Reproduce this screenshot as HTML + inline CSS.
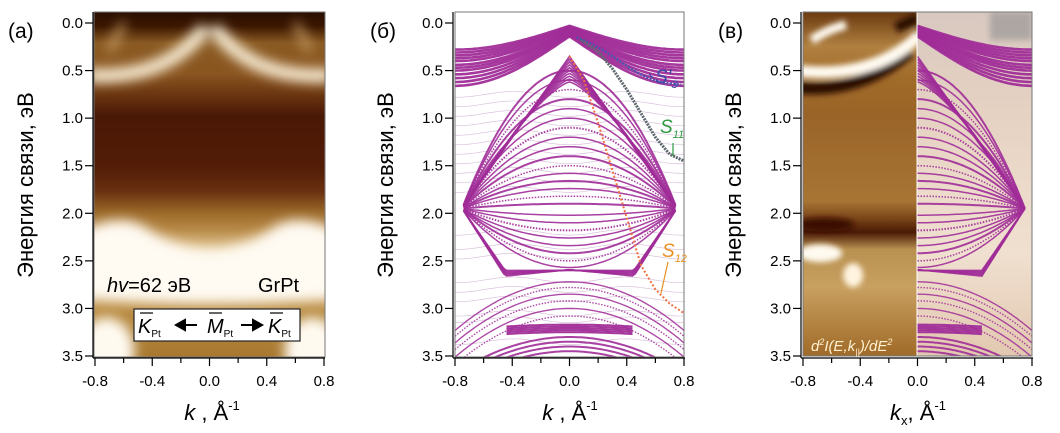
<!DOCTYPE html>
<html><head><meta charset="utf-8">
<style>
html,body{margin:0;padding:0;background:#fff;}
svg{display:block;font-family:"Liberation Sans",sans-serif;}
</style></head>
<body>
<svg id="fig" width="1060" height="433" viewBox="0 0 1060 433" xmlns="http://www.w3.org/2000/svg">
<defs>
<filter id="blur6" x="-30%" y="-30%" width="160%" height="160%"><feGaussianBlur stdDeviation="6"/></filter>
<filter id="blur3" x="-30%" y="-30%" width="160%" height="160%"><feGaussianBlur stdDeviation="3"/></filter>
<linearGradient id="gA" x1="0" y1="0" x2="0" y2="1">
<stop offset="0" stop-color="#2a0e00"/><stop offset="0.04" stop-color="#3a1600"/>
<stop offset="0.09" stop-color="#8a5a22"/><stop offset="0.18" stop-color="#8a5520"/>
<stop offset="0.24" stop-color="#6a3510"/><stop offset="0.3" stop-color="#4a1806"/>
<stop offset="0.45" stop-color="#521c07"/><stop offset="0.52" stop-color="#6a3010"/>
<stop offset="0.58" stop-color="#9a6828"/><stop offset="0.63" stop-color="#b88a48"/>
<stop offset="0.7" stop-color="#e8d0a0"/><stop offset="0.8" stop-color="#d0a868"/>
<stop offset="0.87" stop-color="#b88a40"/><stop offset="1" stop-color="#a87830"/>
</linearGradient>
<linearGradient id="gC" x1="0" y1="0" x2="0" y2="1">
<stop offset="0" stop-color="#6a3a10"/><stop offset="0.1" stop-color="#b08040"/>
<stop offset="0.2" stop-color="#a06a28"/><stop offset="0.3" stop-color="#9a6428"/>
<stop offset="0.55" stop-color="#a87535"/><stop offset="0.6" stop-color="#7a4518"/>
<stop offset="0.64" stop-color="#4a1a05"/><stop offset="0.69" stop-color="#b89050"/>
<stop offset="0.8" stop-color="#c8a060"/><stop offset="1" stop-color="#a06a28"/>
</linearGradient>
<linearGradient id="gCR" x1="0" y1="0" x2="0" y2="1">
<stop offset="0" stop-color="#d8c8c0"/><stop offset="0.3" stop-color="#e6d2c2"/>
<stop offset="0.7" stop-color="#f0e0d0"/><stop offset="1" stop-color="#e2c8b0"/>
</linearGradient>
<clipPath id="clipA"><rect x="94" y="12" width="231" height="345"/></clipPath>
<clipPath id="clipB"><rect x="455" y="12" width="229" height="345"/></clipPath>
<clipPath id="clipCL"><rect x="803" y="12" width="114" height="344"/></clipPath>
<clipPath id="clipCR"><rect x="917" y="12" width="115" height="344"/></clipPath>
</defs>
<g id="panels"></g>
</svg>
<script>
// ---- data ----
const xTicks = [-0.8, -0.4, 0.0, 0.4, 0.8];
const xTickLabels = ["-0.8", "-0.4", "0.0", "0.4", "0.8"];
const yTicks = [0.0, 0.5, 1.0, 1.5, 2.0, 2.5, 3.0, 3.5];
const yTickLabels = ["0.0", "0.5", "1.0", "1.5", "2.0", "2.5", "3.0", "3.5"];
const upperBandE0 = [0.03, 0.04, 0.05, 0.06, 0.07, 0.08, 0.09, 0.10, 0.11, 0.12, 0.13, 0.14];
const upperBandEdge = [0.28, 0.31, 0.34, 0.37, 0.40, 0.44, 0.47, 0.50, 0.54, 0.58, 0.62, 0.66];
const fanBandApex = [0.5, 0.6, 0.7, 0.8, 0.9, 1.0, 1.1, 1.2, 1.3, 1.4, 1.5, 1.58, 1.66, 1.74, 1.82, 1.9, 2.02, 2.1, 2.18, 2.26, 2.34, 2.42, 2.5, 2.57];
const nodeK = 0.75, nodeE = 1.95;
const lowerArchTop = [2.72, 2.78, 2.85, 2.92, 3.0, 3.08];
const deepBandE = [3.17, 3.19, 3.21, 3.23, 3.25];
const deepArcTop = [3.3, 3.35, 3.4, 3.45];
const bgLineE = [0.75, 0.85, 0.95, 1.05, 1.15, 1.25, 1.35, 1.45, 1.55, 1.65, 1.75, 2.2, 2.35, 2.45, 2.7, 2.8, 2.9, 3.05, 3.12, 3.35];
const s3k = [0.05, 0.15, 0.25, 0.35, 0.45, 0.55, 0.65, 0.78];
const s3E = [0.15, 0.22, 0.30, 0.40, 0.50, 0.58, 0.63, 0.65];
const s11k = [0.08, 0.2, 0.3, 0.4, 0.5, 0.6, 0.7, 0.8];
const s11E = [0.18, 0.3, 0.48, 0.7, 0.95, 1.2, 1.38, 1.45];
const s12k = [0.0, 0.1, 0.2, 0.3, 0.4, 0.5, 0.6, 0.7, 0.8];
const s12E = [0.35, 0.6, 1.05, 1.55, 2.05, 2.55, 2.8, 2.95, 3.05];

const NS = "http://www.w3.org/2000/svg";
const root = document.getElementById('panels');
const Y0 = 23, YS = (356 - 23) / 3.5;
function sy(E){ return Y0 + E * YS; }
function mkX(x0, x1){ return k => x0 + (k + 0.8) / 1.6 * (x1 - x0); }
function el(tag, attrs, parent){
  const e = document.createElementNS(NS, tag);
  for (const a in attrs) e.setAttribute(a, attrs[a]);
  (parent || root).appendChild(e);
  return e;
}
const PURPLE = "#a02c98";

function drawBands(g, sx, kmin, kmax, withBg){
  function curve(f, w, color, op, dash){
    let d = "";
    for (let i = 0; i <= 80; i++){
      const k = kmin + (kmax - kmin) * i / 80;
      const E = f(k);
      if (E === null) { continue; }
      d += (d ? "L" : "M") + sx(k).toFixed(1) + "," + sy(E).toFixed(1);
    }
    const p = el('path', {d: d, fill: 'none', stroke: color, 'stroke-width': w, opacity: op}, g);
    if (dash) p.setAttribute('stroke-dasharray', dash);
    
    
  }
  if (withBg){
    bgLineE.forEach(E => curve(k => E + 0.03 * Math.cos(k * 8), 0.6, "#c8a8cc", 0.8));
  }
  upperBandE0.forEach((e0, i) => {
    const eEdge = upperBandEdge[i];
    curve(k => e0 + (eEdge - e0) * Math.sin(Math.min(Math.abs(k) / 0.8, 1) * Math.PI / 2), 2.6, PURPLE, 0.95);
  });
  fanBandApex.forEach((a, i) => {
    curve(k => Math.abs(k) <= nodeK ? a + (nodeE - a) * Math.pow(Math.abs(k) / nodeK, 2) : null,
      i % 3 === 0 ? 2 : 1.5, PURPLE, 0.9, i % 4 === 2 ? "1.5,1.5" : null);
  });
  for (let j = 0; j < 10; j++){
    const a = 0.35 + j * 0.03;
    curve(k => Math.abs(k) <= nodeK ? a + (nodeE - a) * Math.pow(Math.abs(k) / nodeK, 1 + j * 0.04) : null, 1.6, PURPLE, 0.9);
  }
  for (let j = 0; j < 6; j++){
    const b = 2.6 + j * 0.012;
    curve(k => {
      const ak = Math.abs(k);
      if (ak > nodeK) return null;
      if (ak < 0.45) return b - 0.15 * (0.45 - ak) * j / 5;
      return b + (nodeE - b) * (ak - 0.45) / (nodeK - 0.45);
    }, 1.6, PURPLE, 0.9);
  }
  lowerArchTop.forEach((c, i) => {
    curve(k => c + 0.8 * k * k, 1.4, PURPLE, 0.85, i % 2 ? "1.5,1.5" : null);
  });
  deepBandE.forEach(E => curve(k => Math.abs(k) <= 0.45 ? E + 0.1 * k * k : null, 2, PURPLE, 0.95));
  deepArcTop.forEach(c => curve(k => Math.abs(k) <= 0.75 ? c + 0.6 * k * k : null, 2, PURPLE, 0.9));
}

function axes(sx, x0, x1, prefix){
  const g = el('g', {});
  
  
  el('line', {x1: x0 - 2, y1: 12, x2: x0 - 2, y2: 358, stroke: '#000', 'stroke-width': 1.2}, g);
  el('line', {x1: x0 - 2, y1: 358, x2: x1 + 1, y2: 358, stroke: '#000', 'stroke-width': 1.2}, g);
  yTicks.forEach((E, i) => {
    el('line', {x1: x0 - 10, y1: sy(E), x2: x0 - 2, y2: sy(E), stroke: '#000', 'stroke-width': 1.2}, g);
    const t = el('text', {x: x0 - 12, y: sy(E) + 5, 'text-anchor': 'end', 'font-size': 15}, g);
    t.textContent = yTickLabels[i];
    
    
  });
  for (let k = -0.8; k <= 0.801; k += 0.2){
    const major = Math.abs(Math.round(k * 10) % 4) === 0;
    el('line', {x1: sx(k), y1: 358, x2: sx(k), y2: major ? 366 : 363, stroke: '#000', 'stroke-width': 1.2}, g);
  }
  xTicks.forEach((k, i) => {
    const t = el('text', {x: sx(k), y: 386, 'text-anchor': 'middle', 'font-size': 15}, g);
    t.textContent = xTickLabels[i];
    
    
  });
  const yt = el('text', {x: 0, y: 0, transform: 'translate(' + (x0 - 62) + ',185) rotate(-90)', 'text-anchor': 'middle', 'font-size': 22}, g);
  yt.textContent = 'Энергия связи, эВ';
  
  
  return g;
}

// ===== Panel A =====
(function(){
  const sx = mkX(95, 324);
  const g = el('g', {'clip-path': 'url(#clipA)'});
  
  
  el('rect', {x: 94, y: 12, width: 231, height: 345, fill: 'url(#gA)'}, g);
  const w = el('g', {filter: 'url(#blur6)'}, g);
  el('path', {d: `M${sx(-0.85)},${sy(0.55)} Q${sx(-0.3)},${sy(0.6)} ${sx(-0.03)},${sy(0.05)}`, stroke: '#fff6e0', 'stroke-width': 13, fill: 'none'}, w);
  el('path', {d: `M${sx(0.85)},${sy(0.55)} Q${sx(0.3)},${sy(0.6)} ${sx(0.03)},${sy(0.05)}`, stroke: '#fff6e0', 'stroke-width': 13, fill: 'none'}, w);
  el('path', {d: `M${sx(-0.6)},${sy(0.0)} L${sx(-0.7)},${sy(0.3)} M${sx(0.6)},${sy(0)} L${sx(0.7)},${sy(0.3)}`, stroke: '#d0a870', 'stroke-width': 6, fill: 'none'}, w);
  el('path', {d: `M${sx(-0.9)},${sy(2.2)} Q${sx(-0.6)},${sy(1.95)} ${sx(-0.4)},${sy(2.2)} Q${sx(0)},${sy(2.55)} ${sx(0.4)},${sy(2.2)} Q${sx(0.6)},${sy(1.95)} ${sx(0.9)},${sy(2.2)} L${sx(0.9)},${sy(2.9)} Q${sx(0)},${sy(3.0)} ${sx(-0.9)},${sy(2.9)} Z`, fill: '#fffaf2'}, w);
  el('ellipse', {cx: sx(-0.72), cy: sy(3.45), rx: 28, ry: 34, fill: '#fffaf0'}, w);
  el('ellipse', {cx: sx(0.72), cy: sy(3.45), rx: 28, ry: 34, fill: '#fffaf0'}, w);
  el('rect', {x: 94, y: 12, width: 231, height: 345, fill: 'none', stroke: '#777', 'stroke-width': 1}, root);
  axes(sx, 95, 324, 'panel-a');
  const t1 = el('text', {x: 107, y: 292, 'font-size': 20});
  t1.innerHTML = '<tspan font-style="italic">hv</tspan>=62 эВ';
   
  const t2 = el('text', {x: 258, y: 292, 'font-size': 20}); t2.textContent = 'GrPt';
   
  const box = el('g', {});
   
  el('rect', {x: 134, y: 309, width: 166, height: 32, fill: '#fff', stroke: '#222', 'stroke-width': 1.2}, box);
  const lab = (x, ch) => {
    const t = el('text', {x: x, y: 333, 'font-size': 20, 'font-style': 'italic'}, box);
    t.innerHTML = ch + '<tspan font-size="10" font-style="normal" dy="4">Pt</tspan>';
    el('line', {x1: x + 2, y1: 313, x2: x + 15, y2: 313, stroke: '#000', 'stroke-width': 1.2}, box);
  };
  lab(138, 'K'); lab(207, 'M'); lab(268, 'K');
  el('path', {d: 'M197,325 H176 M176,325 l9,-5 v10 z', stroke: '#000', 'stroke-width': 2, fill: '#000'}, box);
  el('path', {d: 'M241,325 H262 M262,325 l-9,-5 v10 z', stroke: '#000', 'stroke-width': 2, fill: '#000'}, box);
  const pl = el('text', {x: 8, y: 38, 'font-size': 21}); pl.textContent = '(a)';
   
  const xt = el('text', {x: 212, y: 420, 'text-anchor': 'middle', 'font-size': 22});
  xt.innerHTML = '<tspan font-style="italic">k</tspan> , Å<tspan font-size="13" dy="-10">-1</tspan>';
   
})();

// ===== Panel B =====
(function(){
  const sx = mkX(455, 684);
  const g = el('g', {'clip-path': 'url(#clipB)'});
  
  
  el('rect', {x: 455, y: 12, width: 229, height: 345, fill: '#fff'}, g);
  drawBands(g, sx, -0.8, 0.8, true);
  function trace(ks, Es, color, w, dash, name){
    const d = ks.map((k, i) => (i ? 'L' : 'M') + sx(k).toFixed(1) + ',' + sy(Es[i]).toFixed(1)).join('');
    const p = el('path', {d: d, fill: 'none', stroke: color, 'stroke-width': w, 'stroke-dasharray': dash, 'stroke-linejoin': 'round'}, g);
     
  }
  trace(s3k, s3E, '#4a55b0', 2.5, '2,1.5', 's3-trace');
  trace(s11k, s11E, '#606870', 3, '2,1', 's11-trace');
  trace(s12k, s12E, '#f07040', 2, '2,2', 's12-trace');
  el('rect', {x: 455, y: 12, width: 229, height: 345, fill: 'none', stroke: '#777', 'stroke-width': 1}, root);
  axes(sx, 455, 684, 'panel-b');
  const lbl = (x, y, main, sub, col, name) => {
    const t = el('text', {x: x, y: y, 'font-size': 19, 'font-style': 'italic', fill: col});
    t.innerHTML = main + '<tspan font-size="11" dy="5">' + sub + '</tspan>';
     
  };
  lbl(655, 83, "S'", '3', '#3a4aa8', 's3-label');
  lbl(660, 133, 'S', '11', '#2a9a40', 's11-label');
  lbl(662, 257, 'S', '12', '#e89020', 's12-label');
  el('path', {d: 'M653,78 L649,74', stroke: '#3a4aa8', 'stroke-width': 1.2}, root);
  el('path', {d: 'M673,143 L673,156', stroke: '#2a9a40', 'stroke-width': 1.2}, root);
  el('path', {d: 'M668,262 L661,293', stroke: '#e89020', 'stroke-width': 1.2}, root);
  const pl = el('text', {x: 370, y: 38, 'font-size': 21}); pl.textContent = '(б)';
   
  const xt = el('text', {x: 570, y: 420, 'text-anchor': 'middle', 'font-size': 22});
  xt.innerHTML = '<tspan font-style="italic">k</tspan> , Å<tspan font-size="13" dy="-10">-1</tspan>';
   
})();

// ===== Panel C =====
(function(){
  const sx = mkX(803, 1032);
  const gl = el('g', {'clip-path': 'url(#clipCL)'});
  
  
  el('rect', {x: 803, y: 12, width: 114, height: 344, fill: 'url(#gC)'}, gl);
  const w = el('g', {filter: 'url(#blur3)'}, gl);
  el('path', {d: `M${sx(-0.85)},${sy(0.68)} Q${sx(-0.4)},${sy(0.75)} ${sx(-0.05)},${sy(0.3)}`, stroke: '#2a0a00', 'stroke-width': 12, fill: 'none'}, w);
  el('path', {d: `M${sx(0.0)},${sy(-0.05)} L${sx(-0.15)},${sy(0.05)}`, stroke: '#2a0a00', 'stroke-width': 10, fill: 'none'}, w);
  el('path', {d: `M${sx(-0.85)},${sy(0.5)} Q${sx(-0.3)},${sy(0.6)} ${sx(0.02)},${sy(0.12)}`, stroke: '#fffaf0', 'stroke-width': 12, fill: 'none'}, w);
  el('path', {d: `M${sx(-0.74)},${sy(0.18)} Q${sx(-0.62)},${sy(0.06)} ${sx(-0.5)},${sy(0.02)}`, stroke: '#fffaf0', 'stroke-width': 9, fill: 'none'}, w);
  el('ellipse', {cx: sx(-0.68), cy: sy(2.42), rx: 22, ry: 9, fill: '#fffaf0'}, w);
  el('ellipse', {cx: sx(-0.45), cy: sy(2.65), rx: 10, ry: 12, fill: '#fff4e0'}, w);
  el('ellipse', {cx: sx(-0.65), cy: sy(2.12), rx: 30, ry: 7, fill: '#3a1000'}, w);
  const gr = el('g', {'clip-path': 'url(#clipCR)'});
  
  
  el('rect', {x: 917, y: 12, width: 115, height: 344, fill: 'url(#gCR)'}, gr);
  el('rect', {x: 990, y: 12, width: 42, height: 28, fill: '#909090', opacity: 0.6, filter: 'url(#blur3)'}, gr);
  drawBands(gr, sx, 0, 0.8, false);
  el('line', {x1: 917, y1: 12, x2: 917, y2: 356, stroke: '#fff', 'stroke-width': 1}, root);
  el('rect', {x: 803, y: 12, width: 229, height: 344, fill: 'none', stroke: '#777', 'stroke-width': 1}, root);
  axes(sx, 803, 1032, 'panel-c');
  const t = el('text', {x: 811, y: 351, 'font-size': 15, 'font-style': 'italic', fill: '#fff0d0'});
  t.innerHTML = 'd<tspan font-size="9" dy="-6">2</tspan><tspan dy="6">I(E,k</tspan><tspan font-size="9" dy="4">||</tspan><tspan dy="-4">)/dE</tspan><tspan font-size="9" dy="-6">2</tspan>';
   
  const pl = el('text', {x: 718, y: 38, 'font-size': 21}); pl.textContent = '(в)';
   
  const xt = el('text', {x: 918, y: 420, 'text-anchor': 'middle', 'font-size': 22});
  xt.innerHTML = '<tspan font-style="italic">k</tspan><tspan font-size="13" dy="5">x</tspan><tspan dy="-5">, Å</tspan><tspan font-size="13" dy="-10">-1</tspan>';
   
})();
</script>
</body></html>
